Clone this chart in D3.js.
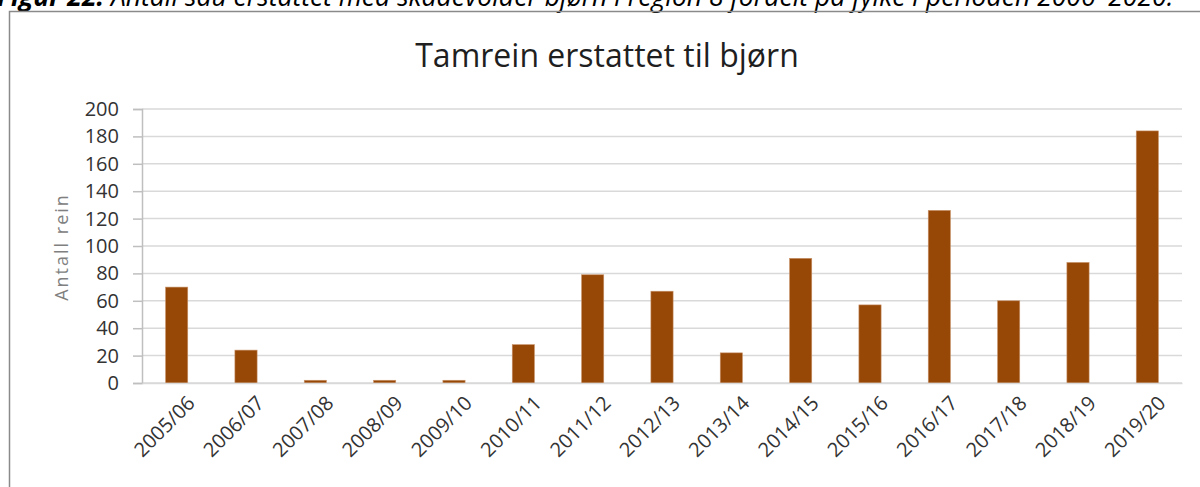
<!DOCTYPE html>
<html>
<head>
<meta charset="utf-8">
<script src="https://cdn.jsdelivr.net/npm/d3@7"></script>
<style>
  body { margin: 0; background: #fff; }
  svg { display: block; font-family: "Open Sans", sans-serif; }
</style>
</head>
<body>
<svg id="chart" width="1200" height="487"></svg>
<script>
var seasons = ["2005/06", "2006/07", "2007/08", "2008/09", "2009/10", "2010/11", "2011/12",
               "2012/13", "2013/14", "2014/15", "2015/16", "2016/17", "2017/18", "2018/19", "2019/20"];
var reindeer = [70, 24, 2, 2, 2, 28, 79, 67, 22, 91, 57, 126, 60, 88, 184];
var yTicks = [0, 20, 40, 60, 80, 100, 120, 140, 160, 180, 200];

var chartTitle = "Tamrein erstattet til bjørn";
var yLabel = "Antall rein";

var W = 1200, H = 487;
var margin = {top: 109, right: 18, bottom: 104, left: 142};
var w = W - margin.left - margin.right;
var h = H - margin.top - margin.bottom;

var svg = d3.select("#chart");

// caption from the report, cut off at the top edge like in the screenshot
var cap = svg.append("text")
    .attr("x", -3)
    .attr("y", 6)
    .attr("font-size", 26.5)
    .attr("font-style", "italic")
    .attr("fill", "#000");
cap.append("tspan").attr("font-weight", "bold").text("Figur 22.");
cap.append("tspan").text(" Antall sau erstattet med skadevolder bjørn i region 8 fordelt på fylke i perioden 2006–2020.");

// chart frame
svg.append("rect")
    .attr("x", 9.5).attr("y", 11.5)
    .attr("width", 1300).attr("height", 600)
    .attr("fill", "none")
    .attr("stroke", "#8a8a8a")
    .attr("stroke-width", 1.5);

var x = d3.scaleBand()
    .domain(seasons)
    .range([0, w])
    .paddingInner(0.68)
    .paddingOuter(0.34);

var y = d3.scaleLinear()
    .domain([0, 200])
    .range([h, 0]);

var g = svg.append("g")
    .attr("transform", "translate(" + margin.left + "," + margin.top + ")");

// gridlines
g.append("g")
  .selectAll("line")
  .data(yTicks)
  .enter()
  .append("line")
    .attr("x1", 0)
    .attr("x2", w)
    .attr("y1", function(d) { return y(d); })
    .attr("y2", function(d) { return y(d); })
    .attr("stroke", "#d9d9d9")
    .attr("stroke-width", 1.5);

// y axis
var yAxis = g.append("g")
    .call(d3.axisLeft(y).tickValues(yTicks).tickSize(9).tickPadding(14));
yAxis.select(".domain").attr("stroke", "#bfbfbf").attr("stroke-width", 1.5);
yAxis.selectAll(".tick line").attr("stroke", "#bfbfbf").attr("stroke-width", 1.5);
yAxis.selectAll("text")
    .attr("font-size", 20)
    .attr("font-family", "Open Sans, sans-serif")
    .attr("fill", "#333");

// bars
g.selectAll("rect.bar")
  .data(reindeer)
  .enter()
  .append("rect")
    .attr("class", "bar")
    .attr("x", function(d, i) { return x(seasons[i]); })
    .attr("y", function(d) { return y(d); })
    .attr("width", x.bandwidth())
    .attr("height", function(d) { return h - y(d); })
    .attr("fill", "#974706")
    .attr("stroke", "#c9936a")
    .attr("stroke-width", 0.6);

// x axis
var xAxis = g.append("g")
    .attr("transform", "translate(0," + h + ")")
    .call(d3.axisBottom(x).tickSize(0).tickPadding(12));
xAxis.select(".domain").attr("stroke", "#d9d9d9").attr("stroke-width", 1.5);
xAxis.selectAll("text")
    .attr("font-size", 20)
    .attr("font-family", "Open Sans, sans-serif")
    .attr("fill", "#333")
    .attr("text-anchor", "end")
    .attr("dy", "0.35em")
    .attr("transform", "translate(6,8) rotate(-45)");

// title
svg.append("text")
    .attr("x", 607)
    .attr("y", 67)
    .attr("text-anchor", "middle")
    .attr("font-size", 32)
    .attr("fill", "#1f1f1f")
    .text(chartTitle);

// y label
svg.append("text")
    .attr("transform", "translate(68,247) rotate(-90)")
    .attr("text-anchor", "middle")
    .attr("font-size", 18)
    .attr("letter-spacing", 2)
    .attr("fill", "#808080")
    .text(yLabel);
</script>
</body>
</html>
